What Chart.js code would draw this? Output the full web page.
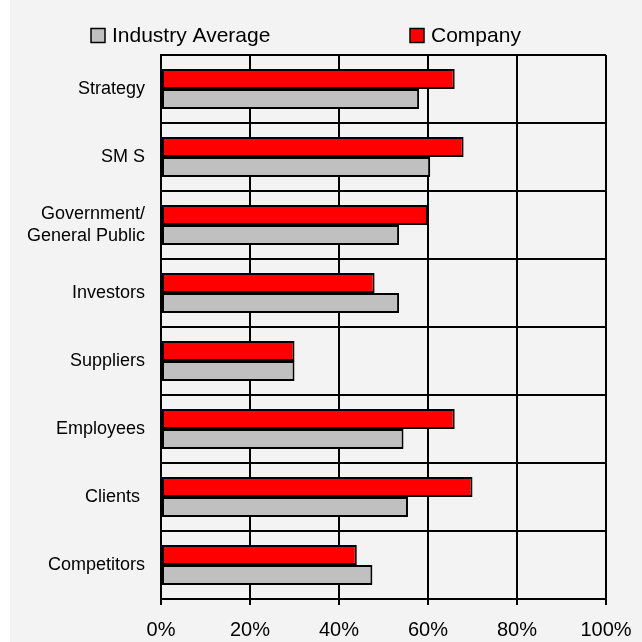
<!DOCTYPE html>
<html>
<head>
<meta charset="utf-8">
<script src="https://cdn.jsdelivr.net/npm/chart.js@4"></script>
<style>
  html, body { margin: 0; padding: 0; background: #f3f3f3; }
  canvas { display: block; }
</style>
</head>
<body>
<canvas id="chart" width="642" height="642"></canvas>
<script>
// Stakeholder categories, top to bottom
const categories = ['Strategy', 'SM S', ['Government/', 'General Public'], 'Investors', 'Suppliers', 'Employees', 'Clients ', 'Competitors'];
// Percent scores per series
const companyValues = [66, 68, 60, 48, 30, 66, 70, 44];
const industryValues = [58, 60.5, 53.5, 53.5, 30, 54.5, 55.5, 47.5];
const seriesNames = ['Industry Average', 'Company'];
const xTickValues = [0, 20, 40, 60, 80, 100];

const FONT = '"Liberation Sans", Arial, Helvetica, sans-serif';
const RED = '#ff0000';
const GRAY = '#c0c0c0';

// Page background with the narrow white strip on the left
const backgroundPlugin = {
  id: 'pageBackground',
  beforeDraw(chart) {
    const ctx = chart.ctx;
    ctx.save();
    ctx.fillStyle = '#f3f3f3';
    ctx.fillRect(0, 0, chart.width, chart.height);
    ctx.fillStyle = '#ffffff';
    ctx.fillRect(0, 0, 10, chart.height);
    ctx.restore();
  }
};

// Legend row drawn above the plot, with wide spacing between entries
const legendPlugin = {
  id: 'spacedLegend',
  afterDraw(chart) {
    const ctx = chart.ctx;
    const entries = [
      { text: seriesNames[0], color: GRAY, x: 91 },
      { text: seriesNames[1], color: RED, x: 410 }
    ];
    const cy = 35.5;
    ctx.save();
    ctx.font = '21px ' + FONT;
    ctx.textBaseline = 'middle';
    ctx.textAlign = 'left';
    entries.forEach(e => {
      ctx.fillStyle = e.color;
      ctx.fillRect(e.x, cy - 7, 14, 14);
      ctx.lineWidth = 1.5;
      ctx.strokeStyle = '#000';
      ctx.strokeRect(e.x, cy - 7, 14, 14);
      ctx.fillStyle = '#000';
      ctx.fillText(e.text, e.x + 21, cy + 1);
    });
    ctx.restore();
  }
};

new Chart(document.getElementById('chart'), {
  type: 'bar',
  data: {
    labels: categories,
    datasets: [
      {
        label: seriesNames[1],
        data: companyValues,
        backgroundColor: RED,
        borderColor: '#000',
        borderWidth: 2,
        borderSkipped: false,
        categoryPercentage: 0.59,
        barPercentage: 1.0
      },
      {
        label: seriesNames[0],
        data: industryValues,
        backgroundColor: GRAY,
        borderColor: '#000',
        borderWidth: 2,
        borderSkipped: false,
        categoryPercentage: 0.59,
        barPercentage: 1.0
      }
    ]
  },
  options: {
    indexAxis: 'y',
    responsive: false,
    animation: false,
    layout: { padding: { top: 55, right: 36, bottom: 0, left: 0 } },
    plugins: {
      legend: { display: false },
      tooltip: { enabled: false },
      title: { display: false }
    },
    scales: {
      x: {
        type: 'linear',
        min: 0,
        max: 100,
        afterBuildTicks(scale) {
          scale.ticks = xTickValues.map(v => ({ value: v }));
        },
        afterFit(scale) {
          scale.height = 43;
          scale.paddingLeft = 0;
          scale.paddingRight = 0;
        },
        ticks: {
          callback: v => v + '%',
          color: '#000',
          font: { family: FONT, size: 20 },
          padding: 13,
          maxRotation: 0
        },
        grid: {
          color: '#000',
          lineWidth: 2,
          drawTicks: true,
          tickLength: 6,
          tickColor: '#000',
          tickWidth: 2
        },
        border: { display: true, color: '#000', width: 2 }
      },
      y: {
        afterFit(scale) { scale.width = 161; },
        ticks: {
          color: '#000',
          font: { family: FONT, size: 18 },
          padding: 16
        },
        grid: {
          offset: true,
          color: '#000',
          lineWidth: 2,
          drawTicks: false
        },
        border: { display: true, color: '#000', width: 2 }
      }
    }
  },
  plugins: [backgroundPlugin, legendPlugin]
});
</script>
</body>
</html>
